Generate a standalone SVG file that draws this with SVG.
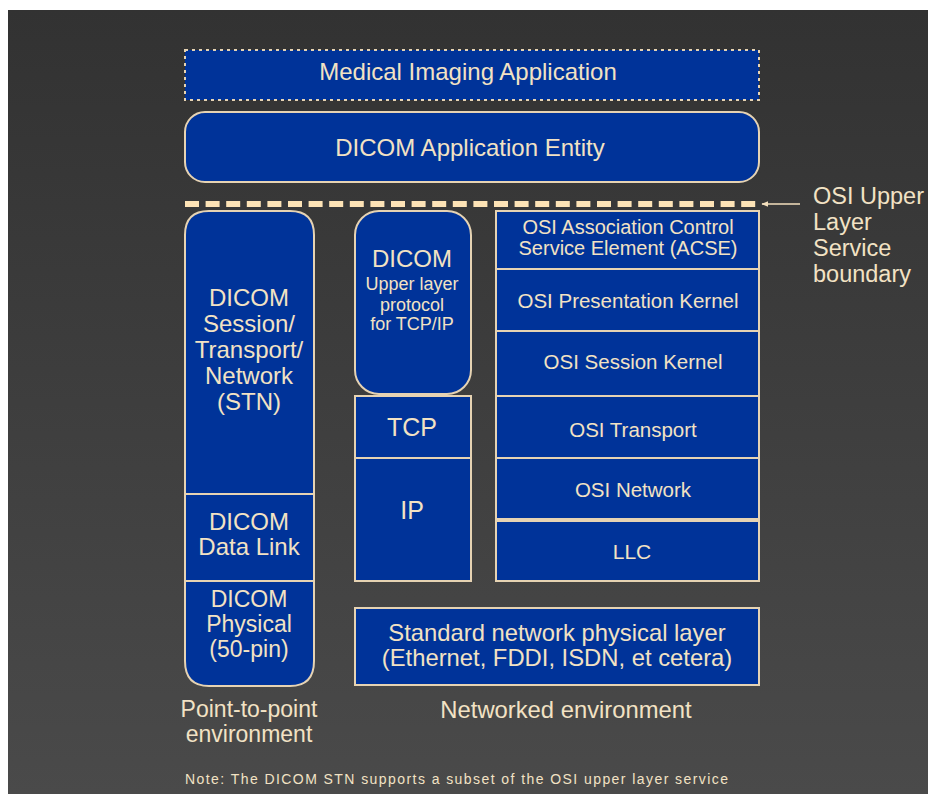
<svg xmlns="http://www.w3.org/2000/svg" width="928" height="794" viewBox="0 0 928 794">
<defs>
<linearGradient id="bg" x1="0" y1="0" x2="0" y2="1">
<stop offset="0" stop-color="#323232"/>
<stop offset="1" stop-color="#4a4a4a"/>
</linearGradient>
<marker id="ah" viewBox="0 0 10 10" refX="9" refY="5" markerWidth="7" markerHeight="7" orient="auto" markerUnits="userSpaceOnUse">
<path d="M0,1 L10,5 L0,9 z" fill="#f3dfbd"/>
</marker>
<style>
.box{fill:#003399;stroke:#e6d3b3;stroke-width:2}
.div{stroke:#e6d3b3;stroke-width:2}
text{font-family:"Liberation Sans",Arial,sans-serif;fill:#f2e2c4;text-anchor:middle}
.lbl{text-anchor:start}
</style>
</defs>
<rect x="0" y="0" width="928" height="794" fill="#ffffff"/>
<rect x="8" y="10" width="920" height="784" fill="url(#bg)"/>

<g id="medical-imaging-application">
<rect x="185" y="50" width="574" height="50" fill="#003399" stroke="#e6d3b3" stroke-width="2" stroke-dasharray="3 4"/>
<text x="468" y="80" font-size="24">Medical Imaging Application</text>
</g>

<g id="dicom-application-entity">
<rect class="box" x="185" y="112" width="574" height="70" rx="20"/>
<text x="470" y="156" font-size="24">DICOM Application Entity</text>
</g>

<g id="connectors">
<line x1="185" y1="204" x2="757" y2="204" stroke="#fde3b6" stroke-width="6" stroke-dasharray="14 6.6"/>
<line x1="800" y1="204" x2="762" y2="204" stroke="#f3dfbd" stroke-width="1.5" marker-end="url(#ah)"/>
</g>

<g id="osi-boundary-label">
<text class="lbl" x="813" y="204" font-size="23.5">OSI Upper</text>
<text class="lbl" x="813" y="230" font-size="23.5">Layer</text>
<text class="lbl" x="813" y="256" font-size="23.5">Service</text>
<text class="lbl" x="813" y="282" font-size="23.5">boundary</text>
</g>

<g id="dicom-stn">
<path class="box" d="M185,235 Q185,211 209,211 L290,211 Q314,211 314,235 L314,661 Q314,686 290,686 L209,686 Q185,686 185,661 Z"/>
<line class="div" x1="185" y1="494" x2="314" y2="494"/>
<line class="div" x1="185" y1="581" x2="314" y2="581"/>
<text x="249" y="306" font-size="24">DICOM</text>
<text x="249" y="332" font-size="24">Session/</text>
<text x="249" y="358" font-size="24">Transport/</text>
<text x="249" y="384" font-size="24">Network</text>
<text x="249" y="410" font-size="24">(STN)</text>
</g>
<g id="dicom-data-link">
<text x="249" y="530" font-size="24">DICOM</text>
<text x="249" y="555" font-size="24">Data Link</text>
</g>
<g id="dicom-physical">
<text x="249" y="607" font-size="23">DICOM</text>
<text x="249" y="632" font-size="23">Physical</text>
<text x="249" y="657" font-size="23">(50-pin)</text>
</g>

<g id="dicom-upper-layer">
<rect class="box" x="355" y="211" width="116" height="183" rx="24"/>
<text x="412" y="267" font-size="24">DICOM</text>
<text x="412" y="290" font-size="18">Upper layer</text>
<text x="412" y="311" font-size="18">protocol</text>
<text x="412" y="330" font-size="18">for TCP/IP</text>
</g>
<g id="tcp">
<rect class="box" x="355" y="396" width="116" height="62"/>
<text x="412" y="436" font-size="25">TCP</text>
</g>
<g id="ip">
<rect class="box" x="355" y="458" width="116" height="123"/>
<text x="412" y="519" font-size="25">IP</text>
</g>

<g id="osi-acse">
<rect class="box" x="496" y="211" width="263" height="58"/>
<text x="628" y="234" font-size="20">OSI Association Control</text>
<text x="628" y="255" font-size="20">Service Element (ACSE)</text>
</g>
<g id="osi-presentation">
<rect class="box" x="496" y="269" width="263" height="62"/>
<text x="628" y="308" font-size="20.5">OSI Presentation Kernel</text>
</g>
<g id="osi-session">
<rect class="box" x="496" y="331" width="263" height="65"/>
<text x="633" y="369" font-size="20.5">OSI Session Kernel</text>
</g>
<g id="osi-transport">
<rect class="box" x="496" y="396" width="263" height="62"/>
<text x="633" y="437" font-size="20.5">OSI Transport</text>
</g>
<g id="osi-network">
<rect class="box" x="496" y="458" width="263" height="61"/>
<text x="633" y="497" font-size="20.5">OSI Network</text>
</g>
<g id="llc">
<rect class="box" x="496" y="521" width="263" height="60"/>
<text x="632" y="559" font-size="21">LLC</text>
</g>

<g id="standard-physical">
<rect class="box" x="355" y="608" width="404" height="77"/>
<text x="557" y="641" font-size="23.8">Standard network physical layer</text>
<text x="557" y="666" font-size="23.8">(Ethernet, FDDI, ISDN, et cetera)</text>
</g>

<g id="environment-labels">
<text x="249" y="717" font-size="23">Point-to-point</text>
<text x="249" y="742" font-size="23">environment</text>
<text x="566" y="718" font-size="23.8">Networked environment</text>
</g>

<g id="note">
<text class="lbl" x="185" y="784" font-size="14" textLength="543" lengthAdjust="spacing">Note: The DICOM STN supports a subset of the OSI upper layer service</text>
</g>
</svg>
